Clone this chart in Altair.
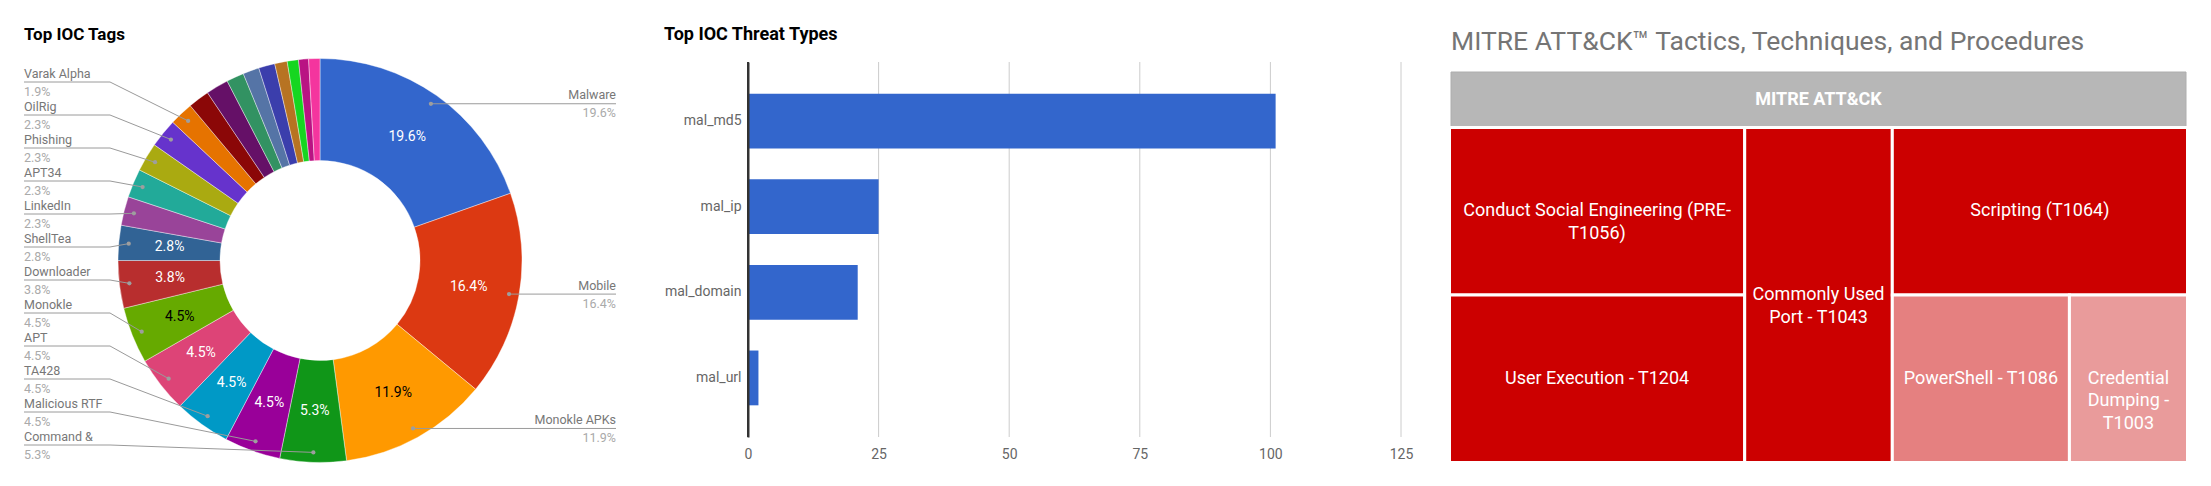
import math
import altair as alt
import pandas as pd

# ---------------- data ----------------
tag_names = ["Malware", "Mobile", "Monokle APKs", "Command &", "Malicious RTF", "TA428",
             "APT", "Monokle", "Downloader", "ShellTea", "LinkedIn", "APT34", "Phishing",
             "OilRig", "Varak Alpha",
             "(other 16)", "(other 17)", "(other 18)", "(other 19)", "(other 20)",
             "(other 21)", "(other 22)", "(other 23)", "(other 24)"]
tag_pct = [19.6, 16.4, 11.9, 5.3, 4.5, 4.5, 4.5, 4.5, 3.8, 2.8, 2.3, 2.3, 2.3, 2.3, 1.9,
           1.7, 1.8, 1.4, 1.3, 1.3, 1.0, 0.9, 0.8, 0.9]
tag_colors = ["#3366cc", "#dc3912", "#ff9900", "#109618", "#990099", "#0099c6", "#dd4477",
              "#66aa00", "#b82e2e", "#316395", "#994499", "#22aa99", "#aaaa11", "#6633cc",
              "#e67300", "#8b0707", "#651067", "#329262", "#5574a6", "#3b3eac", "#b77322",
              "#16d620", "#b91383", "#f4359e"]
tag_labeled = 15          # slices that get an outside label
dark_text_tags = ["Monokle APKs", "Monokle"]

threat_types = ["mal_md5", "mal_ip", "mal_domain", "mal_url"]
threat_counts = [101, 25, 21, 2]
threat_ticks = [0, 25, 50, 75, 100, 125]

ttp_root = "MITRE ATT&CK"
ttp_labels = ["Conduct Social Engineering (PRE-\nT1056)", "User Execution - T1204",
              "Commonly Used\nPort - T1043", "Scripting (T1064)",
              "PowerShell - T1086", "Credential\nDumping -\nT1003"]
ttp_values = [5, 5, 5, 5, 3, 2]
ttp_colors = {5: "#cc0000", 3: "#e58080", 2: "#e99b9b"}

titles = ["Top IOC Tags", "Top IOC Threat Types",
          "MITRE ATT\u0026CK\u2122 Tactics, Techniques, and Procedures"]

FONT = "Roboto"

# ---------------- panel 1 : donut ----------------
W1, H1 = 740, 470
CX, CY = 312, 252.5
R_OUT, R_IN, R_DOT, R_TXT = 202, 100, 192, 151
LABEL_STEP, LABEL_BOTTOM = 33, 437
LEFT_X, LEFT_BEND, RIGHT_X = 16, 102, 608

n = len(tag_names)
total = sum(tag_pct)
tags = pd.DataFrame({"tag": tag_names, "pct": tag_pct, "idx": list(range(n))})
tags["pct_label"] = [f"{p:.1f}%" for p in tag_pct]

mids, cum = [], 0.0
for p in tag_pct:
    mids.append((cum + p / 2) / total * 2 * math.pi)
    cum += p
dot_x = [CX + R_DOT * math.sin(a) for a in mids]
dot_y = [CY - R_DOT * math.cos(a) for a in mids]

right_idx = [i for i in range(tag_labeled) if mids[i] < math.pi]
left_idx = sorted([i for i in range(tag_labeled) if mids[i] >= math.pi], key=lambda i: dot_y[i])
ly = []
for k, i in enumerate(left_idx):
    ly.append(dot_y[i] if k == 0 else max(dot_y[i], ly[-1] + LABEL_STEP))
ly[-1] = min(ly[-1], LABEL_BOTTOM)
for k in range(len(ly) - 2, -1, -1):
    ly[k] = min(ly[k], ly[k + 1] - LABEL_STEP)

line_rows, lab_left, lab_right, dots = [], [], [], []
for k, i in enumerate(left_idx):
    pts = [(LEFT_X, ly[k]), (LEFT_BEND, ly[k]), (dot_x[i], dot_y[i])]
    for s, (px, py) in enumerate(pts):
        line_rows.append({"tag": tag_names[i], "s": s, "px": px, "py": py})
    lab_left.append({"tag": tag_names[i], "pct_label": f"{tag_pct[i]:.1f}%", "px": LEFT_X, "py": ly[k]})
    dots.append({"px": dot_x[i], "py": dot_y[i]})
for i in right_idx:
    pts = [(dot_x[i], dot_y[i]), (RIGHT_X, dot_y[i])]
    for s, (px, py) in enumerate(pts):
        line_rows.append({"tag": tag_names[i], "s": s, "px": px, "py": py})
    lab_right.append({"tag": tag_names[i], "pct_label": f"{tag_pct[i]:.1f}%", "px": RIGHT_X, "py": dot_y[i]})
    dots.append({"px": dot_x[i], "py": dot_y[i]})

lines_df = pd.DataFrame(line_rows)
left_df = pd.DataFrame(lab_left)
right_df = pd.DataFrame(lab_right)
dots_df = pd.DataFrame(dots)

base = alt.Chart(tags).encode(
    theta=alt.Theta("pct:Q", stack=True),
    order=alt.Order("idx:Q"),
    x=alt.value(CX), y=alt.value(CY),
)
arcs = base.mark_arc(innerRadius=R_IN, outerRadius=R_OUT, stroke="#ffffff", strokeWidth=0.4).encode(
    color=alt.Color("tag:N", scale=alt.Scale(domain=tag_names, range=tag_colors), legend=None)
)
inside = base.transform_calculate(
    inside="datum.pct >= 2.8 ? datum.pct_label : ''"
).mark_text(radius=R_TXT, font=FONT, fontSize=14, baseline="middle", align="center").encode(
    text="inside:N",
    color=alt.condition(alt.FieldOneOfPredicate(field="tag", oneOf=dark_text_tags),
                        alt.value("#000000"), alt.value("#ffffff")),
)
leaders = alt.Chart(lines_df).mark_line(color="#9a9a9a", strokeWidth=1).encode(
    x=alt.X("px:Q", scale=None), y=alt.Y("py:Q", scale=None),
    detail="tag:N", order="s:Q",
)
dot_marks = alt.Chart(dots_df).mark_circle(color="#9e9e9e", size=18, opacity=1).encode(
    x=alt.X("px:Q", scale=None), y=alt.Y("py:Q", scale=None)
)

def label_layers(df, align):
    nm = alt.Chart(df).mark_text(font=FONT, fontSize=12.5, align=align, baseline="alphabetic",
                                 dy=-4.3, color="#777777").encode(
        x=alt.X("px:Q", scale=None), y=alt.Y("py:Q", scale=None), text="tag:N")
    pc = alt.Chart(df).mark_text(font=FONT, fontSize=12.5, align=align, baseline="alphabetic",
                                 dy=13.5, color="#aaaaaa").encode(
        x=alt.X("px:Q", scale=None), y=alt.Y("py:Q", scale=None), text="pct_label:N")
    return [nm, pc]

t1 = alt.Chart(pd.DataFrame({"t": [titles[0]]})).mark_text(
    font=FONT, fontSize=17, fontWeight="bold", align="left", baseline="alphabetic", color="#000000"
).encode(x=alt.value(16), y=alt.value(31.5), text="t:N")

donut = alt.layer(arcs, inside, leaders, dot_marks, *label_layers(left_df, "left"),
                  *label_layers(right_df, "right"), t1).properties(width=W1, height=H1)

# ---------------- panel 2 : bars ----------------
W2, H2 = 653, 429
Y_TOP, Y_BOT = 54, 429
bars_df = pd.DataFrame({"type": threat_types, "count": threat_counts})
ticks_df = pd.DataFrame({"tick": threat_ticks})

x_scale = alt.Scale(domain=[threat_ticks[0], threat_ticks[-1]])
x_axis = alt.Axis(values=threat_ticks, title=None, grid=False, domain=False, ticks=False, tickSize=0,
                  labelFlush=False, labelPadding=10, labelFontSize=14, labelFont=FONT,
                  labelColor="#666666")

grid = alt.Chart(ticks_df).mark_rule(strokeWidth=1).encode(
    x=alt.X("tick:Q", scale=x_scale, axis=x_axis),
    y=alt.value(Y_TOP), y2=alt.value(Y_BOT),
    color=alt.condition("datum.tick == 0", alt.value("#333333"), alt.value("#cccccc")),
)
bars = alt.Chart(bars_df).mark_bar(color="#3366cc").encode(
    x=alt.X("count:Q", scale=x_scale, axis=x_axis),
    y=alt.Y("type:N", sort=threat_types,
            scale=alt.Scale(range=[Y_TOP, Y_BOT], paddingInner=0.36, paddingOuter=0.37),
            axis=alt.Axis(title=None, grid=False, ticks=False, tickSize=0, domain=True,
                          domainColor="#333333", domainWidth=2, zindex=2,
                          labelPadding=7, labelFontSize=14, labelFont=FONT,
                          labelColor="#666666")),
)
baseline = alt.Chart(ticks_df).transform_filter("datum.tick == 0").mark_rule(
    color="#333333", strokeWidth=2
).encode(
    x=alt.X("tick:Q", scale=x_scale, axis=x_axis),
    y=alt.value(Y_TOP), y2=alt.value(Y_BOT),
)
t2 = alt.Chart(pd.DataFrame({"t": [titles[1]]})).mark_text(
    font=FONT, fontSize=18, fontWeight="bold", align="left", baseline="alphabetic", color="#000000"
).encode(x=alt.value(-84), y=alt.value(32), text="t:N")

barchart = alt.layer(grid, bars, baseline, t2).properties(width=W2, height=H2)

# ---------------- panel 3 : treemap ----------------
W3, H3 = 794, 470
TM_X0, TM_X1, TM_Y0, TM_Y1 = 48.5, 786.5, 119.5, 454.5
HDR_X0, HDR_X1, HDR_Y0, HDR_Y1 = 50, 785, 64, 119


def treemap_binary(values, x0, y0, x1, y1):
    rects = [None] * len(values)
    sums = [0]
    for v in values:
        sums.append(sums[-1] + v)

    def part(i, j, value, x0, y0, x1, y1):
        if i >= j - 1:
            rects[i] = (x0, y0, x1, y1)
            return
        off = sums[i]
        target = value / 2 + off
        k, hi = i + 1, j - 1
        while k < hi:
            mid = (k + hi) >> 1
            if sums[mid] < target:
                k = mid + 1
            else:
                hi = mid
        if (target - sums[k - 1]) < (sums[k] - target) and i + 1 < k:
            k -= 1
        vl = sums[k] - off
        vr = value - vl
        if (x1 - x0) > (y1 - y0):
            xk = (x0 * vr + x1 * vl) / value
            part(i, k, vl, x0, y0, xk, y1)
            part(k, j, vr, xk, y0, x1, y1)
        else:
            yk = (y0 * vr + y1 * vl) / value
            part(i, k, vl, x0, y0, x1, yk)
            part(k, j, vr, x0, yk, x1, y1)

    part(0, len(values), sums[-1], x0, y0, x1, y1)
    return rects


rects = treemap_binary(ttp_values, TM_X0, TM_Y0, TM_X1, TM_Y1)
cells = pd.DataFrame({
    "label": ttp_labels, "value": ttp_values,
    "x0": [r[0] for r in rects], "y0": [r[1] for r in rects],
    "x1": [r[2] for r in rects], "y1": [r[3] for r in rects],
})
cells["cx"] = (cells.x0 + cells.x1) / 2
cells["cy"] = (cells.y0 + cells.y1) / 2
root = pd.DataFrame({"label": [ttp_root], "x0": [HDR_X0], "x1": [HDR_X1], "y0": [HDR_Y0], "y1": [HDR_Y1]})
root["cx"] = (root.x0 + root.x1) / 2
root["cy"] = (root.y0 + root.y1) / 2

cval = sorted(ttp_colors)
cell_rects = alt.Chart(cells).mark_rect(stroke="#ffffff", strokeWidth=3).encode(
    x=alt.X("x0:Q", scale=None), x2="x1:Q", y=alt.Y("y0:Q", scale=None), y2="y1:Q",
    color=alt.Color("value:O", scale=alt.Scale(domain=cval, range=[ttp_colors[v] for v in cval]),
                    legend=None),
)
cell_text = alt.Chart(cells).mark_text(font=FONT, fontSize=18, color="#ffffff", lineBreak="\n",
                                       lineHeight=22.5, align="center", baseline="middle").encode(
    x=alt.X("cx:Q", scale=None), y=alt.Y("cy:Q", scale=None), text="label:N")
hdr_rect = alt.Chart(root).mark_rect(color="#b7b7b7", stroke="#aeaeae", strokeWidth=1).encode(
    x=alt.X("x0:Q", scale=None), x2="x1:Q", y=alt.Y("y0:Q", scale=None), y2="y1:Q")
hdr_text = alt.Chart(root).mark_text(font=FONT, fontSize=18, fontWeight="bold", color="#ffffff",
                                     align="center", baseline="middle").encode(
    x=alt.X("cx:Q", scale=None), y=alt.Y("cy:Q", scale=None), text="label:N")
t3 = alt.Chart(pd.DataFrame({"t": [titles[2]]})).mark_text(
    font=FONT, fontSize=26.5, align="left", baseline="alphabetic", color="#757575"
).encode(x=alt.value(HDR_X0), y=alt.value(42), text="t:N")

treemap = alt.layer(hdr_rect, hdr_text, cell_rects, cell_text, t3).properties(width=W3, height=H3)

chart = alt.hconcat(donut, barchart, treemap, spacing=0, bounds="flush").resolve_scale(
    color="independent"
).properties(
    padding=0, background="#ffffff"
).configure(font=FONT).configure_view(strokeWidth=0, stroke="transparent")

chart.save("out.html", embed_options={"renderer": "svg", "actions": False})
